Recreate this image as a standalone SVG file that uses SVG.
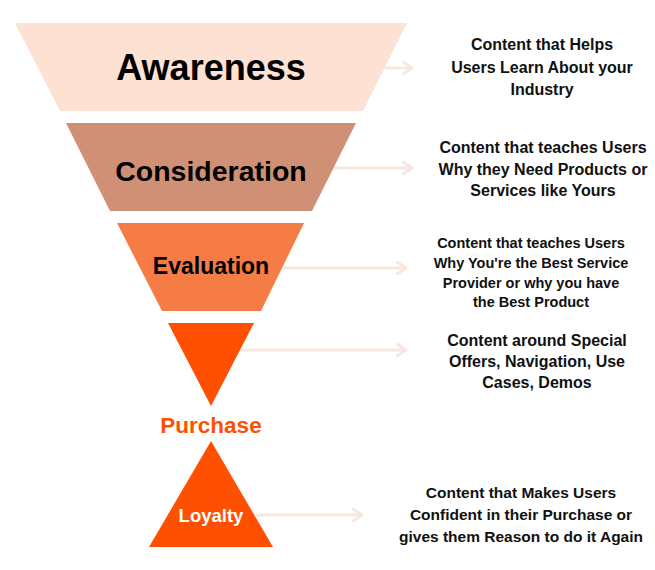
<svg xmlns="http://www.w3.org/2000/svg" width="655" height="570" viewBox="0 0 655 570">
<defs>
<marker id="chev" viewBox="0 0 12 14" refX="10" refY="7" markerWidth="12" markerHeight="14" markerUnits="userSpaceOnUse" orient="auto">
<path d="M1,1 L10,7 L1,13" fill="none" stroke="#F6E8E0" stroke-width="3" stroke-linecap="round" stroke-linejoin="round"/>
</marker>
<style>
.stage{font-family:"Liberation Sans",Arial,sans-serif;font-weight:bold;text-anchor:middle}
.desc{font-family:"Liberation Sans",Arial,sans-serif;font-weight:bold;text-anchor:middle;fill:#111;font-size:16px}
.desc.sm{font-size:14.5px}
.desc.md{font-size:15.5px}
.conn line{stroke:#F6E8E0;stroke-width:3;marker-end:url(#chev)}
</style>
</defs>
<rect width="655" height="570" fill="#ffffff"/>
<g class="conn" id="connectors">
<line x1="385" y1="68" x2="412" y2="68"/>
<line x1="333" y1="168" x2="412" y2="168"/>
<line x1="283" y1="268" x2="406" y2="268"/>
<line x1="240" y1="350" x2="406" y2="350"/>
<line x1="256" y1="515" x2="362" y2="515"/>
</g>
<g id="awareness">
<polygon points="15,23 407,23 363,111 60,111" fill="#FDE1D3"/>
<text class="stage" x="211" y="80" font-size="36" fill="#000">Awareness</text>
</g>
<g id="consideration">
<polygon points="66,123 356,123 312,211 110,211" fill="#D09075"/>
<text class="stage" x="211" y="181" font-size="28.5" fill="#000">Consideration</text>
</g>
<g id="evaluation">
<polygon points="117,223 304,223 261,311 162,311" fill="#F67C46"/>
<text class="stage" x="211" y="274" font-size="23" fill="#000">Evaluation</text>
</g>
<g id="purchase">
<polygon points="168,323 254,323 211,406" fill="#FE5000"/>
<text class="stage" x="211" y="433" font-size="22.5" fill="#FE5000">Purchase</text>
</g>
<g id="loyalty">
<polygon points="211,441 273,547 149,547" fill="#FE5000"/>
<text class="stage" x="211" y="522" font-size="18.5" fill="#ffffff">Loyalty</text>
</g>
<g id="desc-awareness">
<text class="desc" x="542" y="50">Content that Helps</text>
<text class="desc" x="542" y="73">Users Learn About your</text>
<text class="desc" x="542" y="95">Industry</text>
</g>
<g id="desc-consideration">
<text class="desc" x="543" y="153">Content that teaches Users</text>
<text class="desc" x="543" y="175">Why they Need Products or</text>
<text class="desc" x="543" y="196">Services like Yours</text>
</g>
<g id="desc-evaluation">
<text class="desc sm" x="531" y="248">Content that teaches Users</text>
<text class="desc sm" x="531" y="268">Why You're the Best Service</text>
<text class="desc sm" x="531" y="288">Provider or why you have</text>
<text class="desc sm" x="531" y="307">the Best Product</text>
</g>
<g id="desc-purchase">
<text class="desc" x="537" y="346">Content around Special</text>
<text class="desc" x="537" y="367">Offers, Navigation, Use</text>
<text class="desc" x="537" y="388">Cases, Demos</text>
</g>
<g id="desc-loyalty">
<text class="desc md" x="521" y="498">Content that Makes Users</text>
<text class="desc md" x="521" y="520">Confident in their Purchase or</text>
<text class="desc md" x="521" y="542">gives them Reason to do it Again</text>
</g>
</svg>
